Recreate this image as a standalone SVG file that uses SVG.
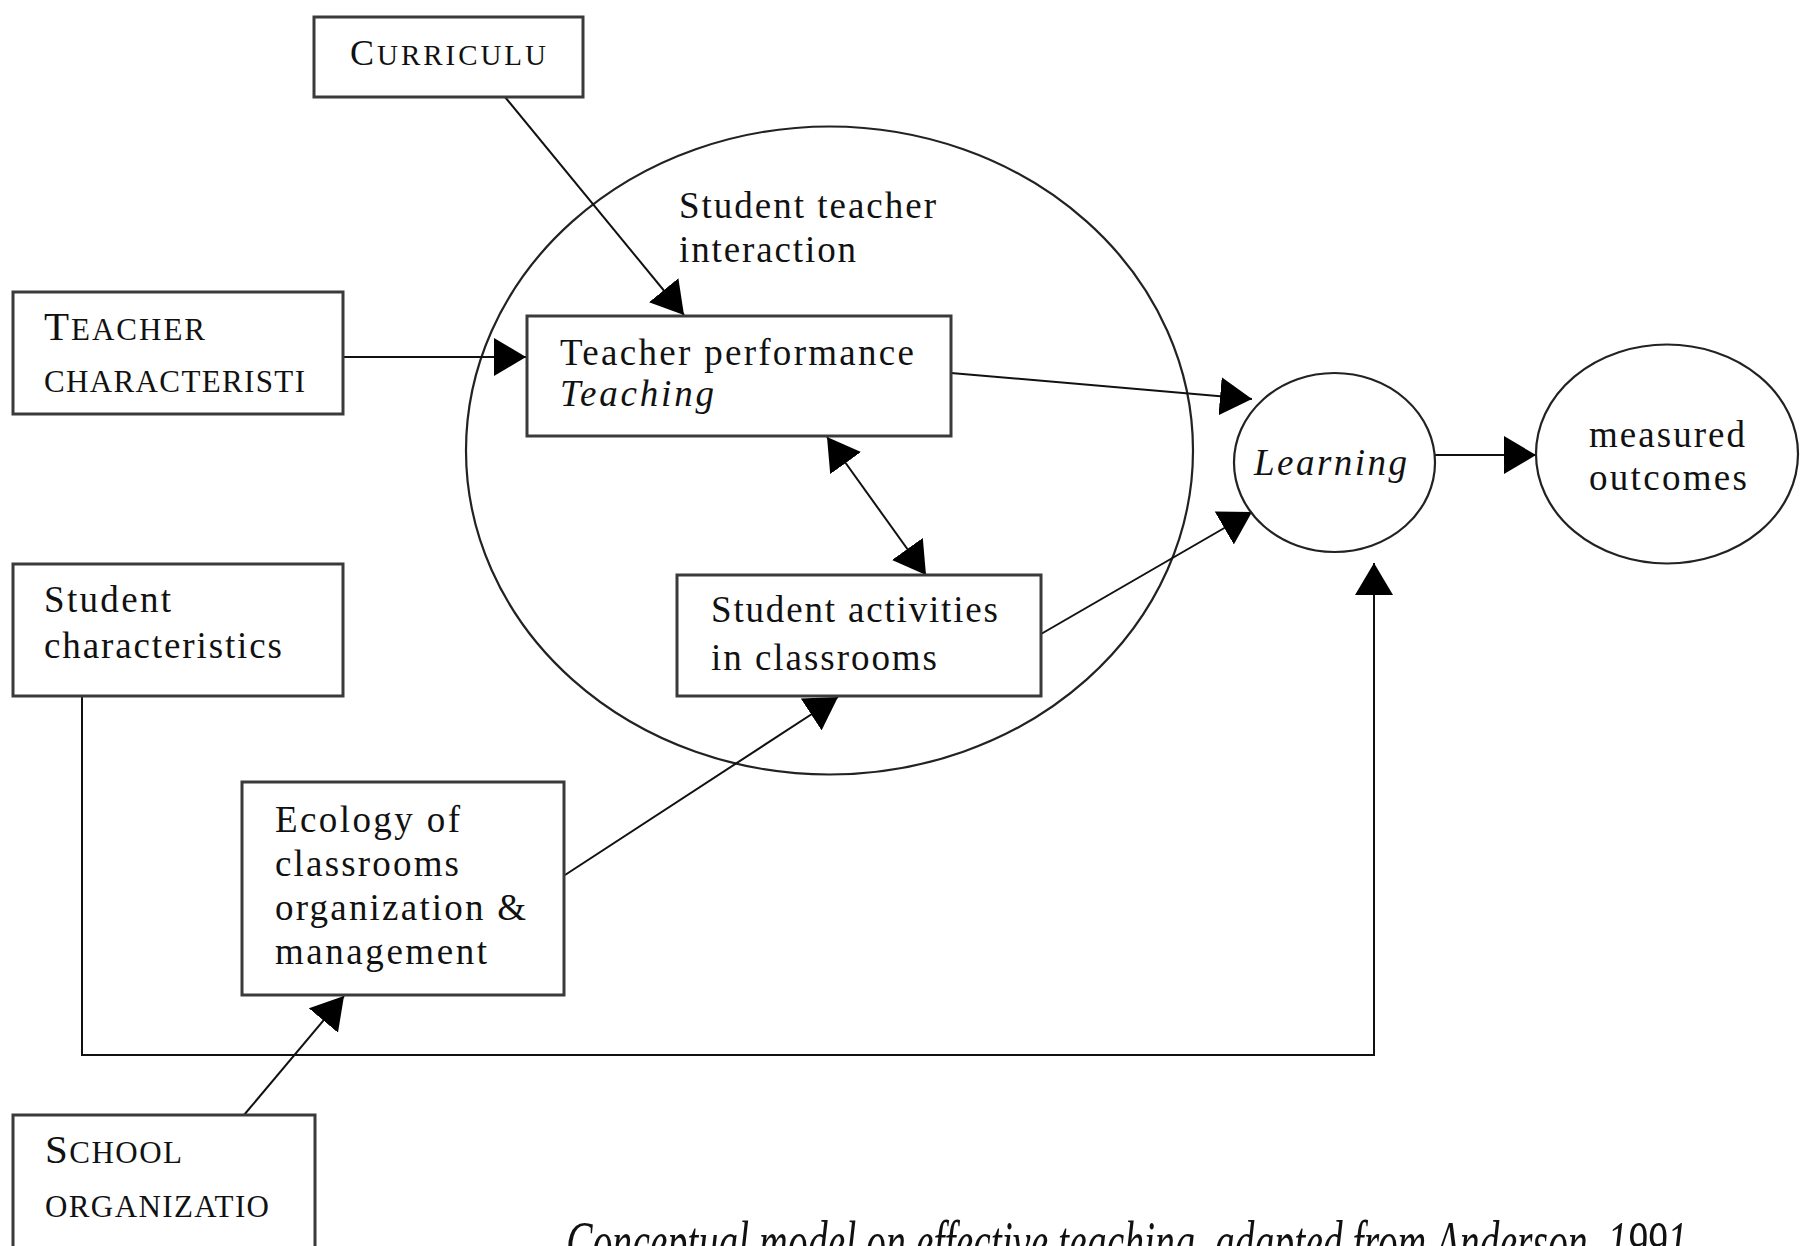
<svg xmlns="http://www.w3.org/2000/svg" width="1812" height="1246" viewBox="0 0 1812 1246">
<style>
  .box { fill: #fff; stroke: #3a3a3a; stroke-width: 3; }
  .circ { fill: none; stroke: #222; stroke-width: 2.2; }
  .t { font-family: "Liberation Serif", "Times New Roman", serif; font-size: 37px; fill: #111; }
  .it { font-style: italic; }
  .big { font-size: 41px; }
  .sm { font-size: 31px; }
  .edge { fill: none; stroke: #111; stroke-width: 2; }
</style>
<defs>
  <marker id="ah" viewBox="0 0 32 38" refX="32" refY="19" markerWidth="32" markerHeight="38" markerUnits="userSpaceOnUse" orient="auto-start-reverse">
    <path d="M0,0 L32,19 L0,38 z" fill="#000"/>
  </marker>
</defs>
<rect width="1812" height="1246" fill="#fff"/>

<g id="interaction-circle">
  <ellipse class="circ" cx="829.5" cy="450.5" rx="363.5" ry="324"/>
  <text class="t" x="679" y="218" textLength="257" lengthAdjust="spacing">Student teacher</text>
  <text class="t" x="679" y="262" textLength="177" lengthAdjust="spacing">interaction</text>
</g>

<g id="connectors">
  <line class="edge" x1="505" y1="97" x2="684" y2="315" marker-end="url(#ah)"/>
  <line class="edge" x1="343" y1="357" x2="526" y2="357" marker-end="url(#ah)"/>
  <line class="edge" x1="951" y1="373" x2="1252" y2="399" marker-end="url(#ah)"/>
  <line class="edge" x1="1041" y1="634" x2="1252" y2="512" marker-end="url(#ah)"/>
  <line class="edge" x1="827" y1="437" x2="926" y2="575" marker-start="url(#ah)" marker-end="url(#ah)"/>
  <line class="edge" x1="565" y1="875" x2="838" y2="697" marker-end="url(#ah)"/>
  <line class="edge" x1="244" y1="1115" x2="344" y2="996" marker-end="url(#ah)"/>
  <polyline class="edge" points="82,696 82,1055 1374,1055 1374,563" marker-end="url(#ah)"/>
  <line class="edge" x1="1435" y1="455" x2="1536" y2="455" marker-end="url(#ah)"/>
</g>

<g id="curriculum">
  <rect class="box" x="314" y="17" width="269" height="80"/>
  <text class="t" x="350" y="65" textLength="196" lengthAdjust="spacing"><tspan style="font-size:36px">C</tspan><tspan style="font-size:29px">URRICULU</tspan></text>
</g>

<g id="teacher-characteristics">
  <rect class="box" x="13" y="292" width="330" height="122"/>
  <text class="t" x="44" y="340" textLength="161" lengthAdjust="spacing"><tspan class="big">T</tspan><tspan class="sm">EACHER</tspan></text>
  <text class="t sm" x="44" y="392" textLength="261" lengthAdjust="spacing">CHARACTERISTI</text>
</g>

<g id="student-characteristics">
  <rect class="box" x="13" y="564" width="330" height="132"/>
  <text class="t" x="44" y="612" textLength="127" lengthAdjust="spacing">Student</text>
  <text class="t" x="44" y="658" textLength="238" lengthAdjust="spacing">characteristics</text>
</g>

<g id="ecology">
  <rect class="box" x="242" y="782" width="322" height="213"/>
  <text class="t" x="275" y="832" textLength="185" lengthAdjust="spacing">Ecology of</text>
  <text class="t" x="275" y="876" textLength="184" lengthAdjust="spacing">classrooms</text>
  <text class="t" x="275" y="920" textLength="251" lengthAdjust="spacing">organization &amp;</text>
  <text class="t" x="275" y="964" textLength="212" lengthAdjust="spacing">management</text>
</g>

<g id="school-organization">
  <rect class="box" x="13" y="1115" width="302" height="150"/>
  <text class="t" x="45" y="1163" textLength="137" lengthAdjust="spacing"><tspan class="big">S</tspan><tspan class="sm">CHOOL</tspan></text>
  <text class="t sm" x="45" y="1217" textLength="224" lengthAdjust="spacing">ORGANIZATIO</text>
</g>

<g id="teacher-performance">
  <rect class="box" x="527" y="316" width="424" height="120"/>
  <text class="t" x="560" y="365" textLength="354" lengthAdjust="spacing">Teacher performance</text>
  <text class="t it" x="560" y="406" textLength="154" lengthAdjust="spacing">Teaching</text>
</g>

<g id="student-activities">
  <rect class="box" x="677" y="575" width="364" height="121"/>
  <text class="t" x="711" y="622" textLength="287" lengthAdjust="spacing">Student activities</text>
  <text class="t" x="711" y="670" textLength="226" lengthAdjust="spacing">in classrooms</text>
</g>

<g id="learning">
  <ellipse class="circ" cx="1334.5" cy="462.5" rx="100.5" ry="89.5"/>
  <text class="t it" x="1254" y="475" textLength="153" lengthAdjust="spacing">Learning</text>
</g>

<g id="measured-outcomes">
  <ellipse class="circ" cx="1667" cy="454" rx="131" ry="109.5"/>
  <text class="t" x="1589" y="447" textLength="156" lengthAdjust="spacing">measured</text>
  <text class="t" x="1589" y="490" textLength="158" lengthAdjust="spacing">outcomes</text>
</g>

<g id="caption">
  <text x="566" y="1263" font-family="Liberation Serif, serif" font-style="italic" font-size="62" fill="#111" textLength="1121" lengthAdjust="spacingAndGlyphs">Conceptual model on effective teaching, adapted from Anderson, 1991</text>
</g>
</svg>
